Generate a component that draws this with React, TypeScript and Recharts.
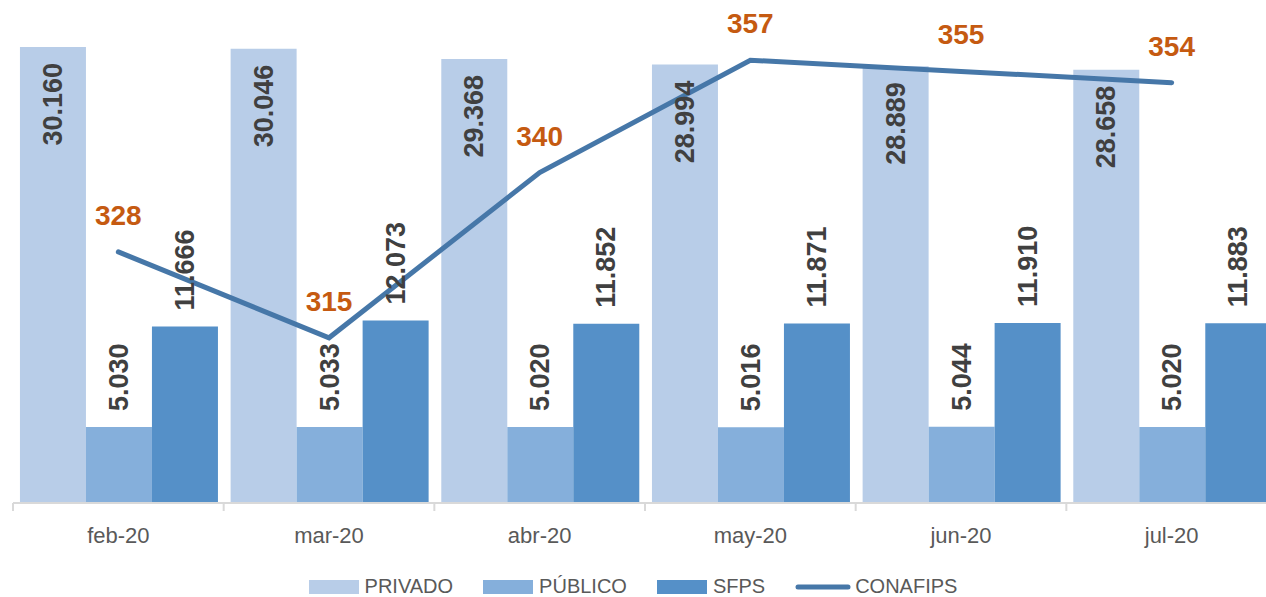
import React from 'react';
import { ComposedChart, Bar, Line, XAxis, YAxis, Legend, LabelList } from 'recharts';

const categories = ['feb-20', 'mar-20', 'abr-20', 'may-20', 'jun-20', 'jul-20'];
const privado = [30160, 30046, 29368, 28994, 28889, 28658];
const publico = [5030, 5033, 5020, 5016, 5044, 5020];
const sfps = [11666, 12073, 11852, 11871, 11910, 11883];
const conafips = [328, 315, 340, 357, 355.3, 353.6];
const legendOrder = ['PRIVADO', 'PÚBLICO', 'SFPS', 'CONAFIPS'];

const data = categories.map((c, i) => ({
  mes: c,
  PRIVADO: privado[i],
  'PÚBLICO': publico[i],
  SFPS: sfps[i],
  CONAFIPS: conafips[i],
}));

const FONT = '"Liberation Sans", Arial, sans-serif';
const CHART_W = 1290;
const CHART_H = 597;
const MARGIN = { top: 4, right: 13, bottom: 64, left: 13 };
const BAND = (CHART_W - MARGIN.left - MARGIN.right) / categories.length;

const C_PRIV = '#B8CDE8';
const C_PUB = '#85AFDB';
const C_SFPS = '#5590C8';
const C_LINE = '#4677A8';
const C_LBL = '#C55A11';

const fmt = (v: number) => String(Math.round(v)).replace(/\B(?=(\d{3})+(?!\d))/g, '.');

const InsideTopLabel = (props: any) => {
  const { x, y, width, value } = props;
  const cx = Number(x) + Number(width) / 2;
  const ty = Number(y) + 16;
  return (
    <text x={cx} y={ty} transform={`rotate(-90 ${cx} ${ty})`} textAnchor="end" dominantBaseline="central"
      fill="#404040" fontFamily={FONT} fontWeight="bold" fontSize={27}>
      {fmt(value)}
    </text>
  );
};

const OutsideTopLabel = (props: any) => {
  const { x, y, width, value } = props;
  const cx = Number(x) + Number(width) / 2;
  const ty = Number(y) - 16;
  return (
    <text x={cx} y={ty} transform={`rotate(-90 ${cx} ${ty})`} textAnchor="start" dominantBaseline="central"
      fill="#404040" fontFamily={FONT} fontWeight="bold" fontSize={27}>
      {fmt(value)}
    </text>
  );
};

const LineLabel = (props: any) => {
  const { x, y, value } = props;
  return (
    <text x={x} y={Number(y) - 27} textAnchor="middle" fill={C_LBL} fontFamily={FONT} fontWeight="bold" fontSize={28}>
      {Math.round(value)}
    </text>
  );
};

const XTick = (props: any) => {
  const { x, y, payload } = props;
  const bx = Number(x) - BAND / 2;
  return (
    <g>
      <line x1={bx} x2={bx} y1={Number(y) - 24} y2={Number(y) - 16} stroke="#D9D9D9" strokeWidth={2} />
      <text x={x} y={y} dy="0.71em" textAnchor="middle" fill="#595959" fontFamily={FONT} fontSize={22}>
        {payload.value}
      </text>
    </g>
  );
};

const LegendContent = (props: any) => {
  const items = [...(props.payload || [])].sort(
    (a: any, b: any) => legendOrder.indexOf(String(a.value)) - legendOrder.indexOf(String(b.value))
  );
  return (
    <div style={{ display: 'flex', justifyContent: 'center', alignItems: 'center', fontFamily: FONT, fontSize: 20, color: '#595959' }}>
      {items.map((it: any, i: number) => (
        <div key={i} style={{ display: 'flex', alignItems: 'center', marginLeft: i === 0 ? 0 : 30 }}>
          {it.type === 'line' ? (
            <svg width={56} height={14} style={{ marginRight: 4 }}>
              <line x1={3} y1={7} x2={53} y2={7} stroke={it.color} strokeWidth={5} strokeLinecap="round" />
            </svg>
          ) : (
            <div style={{ width: 50, height: 14, background: it.color, marginRight: 6 }} />
          )}
          <span>{it.value}</span>
        </div>
      ))}
    </div>
  );
};

export default function App() {
  return (
    <div style={{ position: 'fixed', left: 0, top: 0, width: 1266, height: 597, overflow: 'hidden', background: '#fff' }}>
      <ComposedChart width={CHART_W} height={CHART_H} data={data} margin={MARGIN} barCategoryGap="3.3%" barGap={0}>
        <XAxis dataKey="mes" xAxisId={0} height={30} tickSize={8} tickMargin={16} tickLine={false}
          axisLine={{ stroke: '#D9D9D9', strokeWidth: 2 }} tick={<XTick />} interval={0} />
        <YAxis yAxisId="left" hide domain={[0, 33000]} />
        <YAxis yAxisId="right" orientation="right" hide domain={[290, 365.5]} />
        <Bar yAxisId="left" dataKey="PRIVADO" fill={C_PRIV} isAnimationActive={false}>
          <LabelList dataKey="PRIVADO" content={<InsideTopLabel />} />
        </Bar>
        <Bar yAxisId="left" dataKey="PÚBLICO" fill={C_PUB} isAnimationActive={false}>
          <LabelList dataKey="PÚBLICO" content={<OutsideTopLabel />} />
        </Bar>
        <Bar yAxisId="left" dataKey="SFPS" fill={C_SFPS} isAnimationActive={false}>
          <LabelList dataKey="SFPS" content={<OutsideTopLabel />} />
        </Bar>
        <Line yAxisId="right" dataKey="CONAFIPS" type="linear" stroke={C_LINE} strokeWidth={5} strokeLinecap="round"
          strokeLinejoin="miter" dot={false} activeDot={false} legendType="line" isAnimationActive={false}>
          <LabelList dataKey="CONAFIPS" content={<LineLabel />} />
        </Line>
        <Legend layout="horizontal" verticalAlign="middle" align="center" content={<LegendContent />}
          wrapperStyle={{ position: 'absolute', top: 575, left: 0, width: 1266, height: 24 }} />
      </ComposedChart>
    </div>
  );
}
